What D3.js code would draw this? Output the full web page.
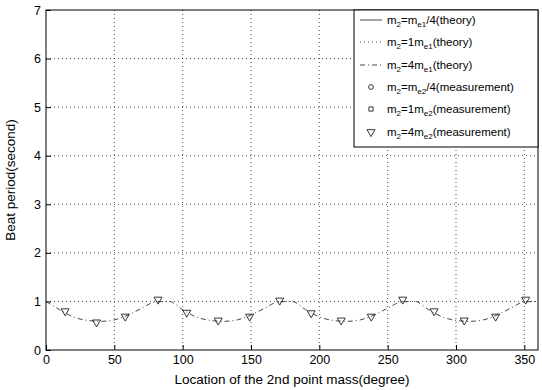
<!DOCTYPE html>
<html><head><meta charset="utf-8">
<script src="https://cdn.jsdelivr.net/npm/d3@7"></script>
<style>body{margin:0;background:#fff}svg{display:block}text{font-family:"Liberation Sans",Arial,sans-serif;fill:#000}</style>
</head><body><svg id="c" width="542" height="390"></svg>
<script>
const xTicks=[0,50,100,150,200,250,300,350];
const yTicks=[0,1,2,3,4,5,6,7];
const theoryAngles=[0,10,20,30,40,50,60,70,80,90,100,110,120,130,140,150,160,170,180,190,200,210,220,230,240,250,260,270,280,290,300,310,320,330,340,350,360];
const theory4m=[1.0,0.83,0.68,0.61,0.59,0.62,0.72,0.86,0.99,1.0,0.83,0.68,0.61,0.59,0.62,0.72,0.86,0.99,1.0,0.83,0.68,0.61,0.59,0.62,0.72,0.86,0.99,1.0,0.83,0.68,0.61,0.59,0.62,0.72,0.86,0.99,1.0];
const measAngles=[14,37,58,82,103,126,149,171,194,216,238,261,284,306,329,351];
const meas4m=[0.80,0.57,0.69,1.04,0.77,0.61,0.69,1.02,0.76,0.61,0.69,1.04,0.80,0.61,0.69,1.04];
const legendLabels=[
 {m:"m",s:"2",eq:"=m",s2:"e1",t:"/4(theory)"},
 {m:"m",s:"2",eq:"=1m",s2:"e1",t:"(theory)"},
 {m:"m",s:"2",eq:"=4m",s2:"e1",t:"(theory)"},
 {m:"m",s:"2",eq:"=m",s2:"e2",t:"/4(measurement)"},
 {m:"m",s:"2",eq:"=1m",s2:"e2",t:"(measurement)"},
 {m:"m",s:"2",eq:"=4m",s2:"e2",t:"(measurement)"}];

const svg=d3.select("#c");
const L=46,R=538,T=10,B=350;
const x=d3.scaleLinear().domain([0,360]).range([L,R]);
const y=d3.scaleLinear().domain([0,7]).range([B,T]);

// grid
const g=svg.append("g");
g.selectAll("line.gx").data(xTicks.filter(d=>d>0)).join("line")
 .attr("x1",d=>x(d)).attr("x2",d=>x(d)).attr("y1",T).attr("y2",B)
 .attr("stroke","#000").attr("stroke-width",0.7).attr("stroke-dasharray","1,3");
g.selectAll("line.gy").data(yTicks.filter(d=>d>0&&d<7)).join("line")
 .attr("x1",L).attr("x2",R).attr("y1",d=>y(d)).attr("y2",d=>y(d))
 .attr("stroke","#000").attr("stroke-width",0.7).attr("stroke-dasharray","1,3");

// axes
const xa=svg.append("g").attr("transform",`translate(0,${B})`).call(d3.axisBottom(x).tickValues(xTicks).tickFormat(d3.format("d")).tickSize(-5).tickPadding(5));
const ya=svg.append("g").attr("transform",`translate(${L},0)`).call(d3.axisLeft(y).tickValues(yTicks).tickFormat(d3.format("d")).tickSize(-5).tickPadding(5));
[xa,ya].forEach(a=>{a.select(".domain").remove();a.selectAll("text").attr("font-size",12.5).attr("font-family","Liberation Sans, Arial, sans-serif");a.selectAll("line").attr("stroke","#000");});
svg.append("rect").attr("x",L).attr("y",T).attr("width",R-L).attr("height",B-T).attr("fill","none").attr("stroke","#000").attr("stroke-width",1);

// curve
const line=d3.line().x((d,i)=>x(theoryAngles[i])).y(d=>y(d)).curve(d3.curveMonotoneX);
svg.append("path").datum(theory4m).attr("d",line).attr("fill","none")
 .attr("stroke","#333").attr("stroke-width",0.9).attr("stroke-dasharray","5,3,1,3");
const tri=d3.symbol().type(d3.symbolTriangle).size(28);
svg.selectAll("path.m").data(meas4m).join("path")
 .attr("transform",(d,i)=>`translate(${x(measAngles[i])},${y(d)}) rotate(180)`)
 .attr("d",tri).attr("fill","none").attr("stroke","#222").attr("stroke-width",0.9);

// labels
svg.append("text").attr("x",(L+R)/2).attr("y",384).attr("text-anchor","middle").attr("font-size",13.5).text("Location of the 2nd point mass(degree)");
svg.append("text").attr("transform",`translate(15,${(T+B)/2}) rotate(-90)`).attr("text-anchor","middle").attr("font-size",13.5).text("Beat period(second)");

// legend
const lg=svg.append("g");
lg.append("rect").attr("x",354).attr("y",T).attr("width",R-354).attr("height",137).attr("fill","#fff").attr("stroke","#000");
const ly=[24,46,69,91,113,136];
const dashes=[null,"1,3","5,3,1,3"];
legendLabels.forEach((d,i)=>{
 if(i<3){lg.append("line").attr("x1",360).attr("x2",382).attr("y1",ly[i]-4).attr("y2",ly[i]-4)
   .attr("stroke","#333").attr("stroke-width",0.9).attr("stroke-dasharray",dashes[i]);}
 else {lg.append("path").attr("transform",`translate(371,${ly[i]-4}) rotate(180)`).attr("d",i===5?tri:d3.symbol().type(i===3?d3.symbolCircle:d3.symbolSquare).size(18)).attr("fill","none").attr("stroke","#222").attr("stroke-width",0.9);}
 const t=lg.append("text").attr("x",387).attr("y",ly[i]).attr("font-size",11.5);
 t.append("tspan").text(d.m);
 t.append("tspan").attr("font-size",8).attr("dy",3).text(d.s);
 t.append("tspan").attr("dy",-3).text(d.eq);
 t.append("tspan").attr("font-size",8).attr("dy",3).text(d.s2);
 t.append("tspan").attr("dy",-3).text(d.t);
});
</script></body></html>
